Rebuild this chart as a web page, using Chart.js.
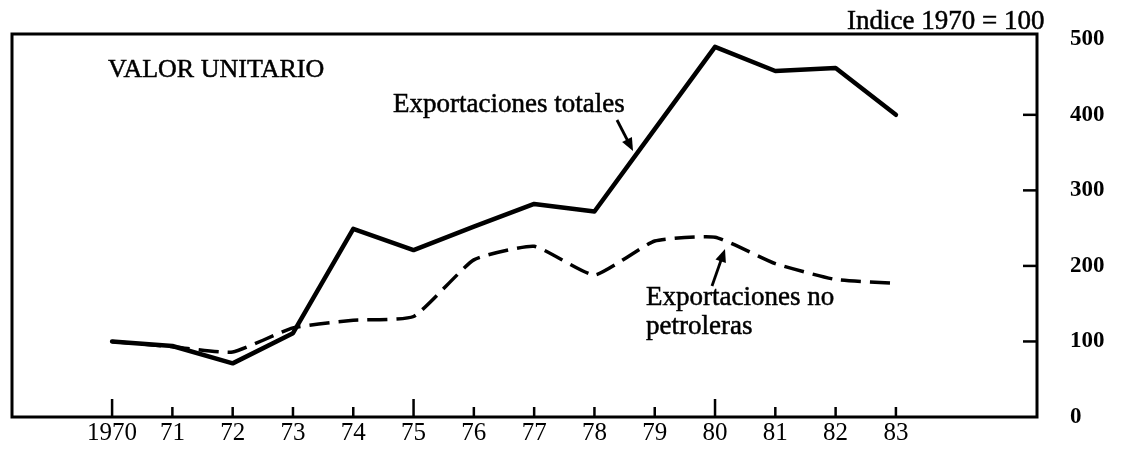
<!DOCTYPE html>
<html>
<head>
<meta charset="utf-8">
<script src="https://cdn.jsdelivr.net/npm/chart.js@4"></script>
<style>
  html, body { margin: 0; padding: 0; background: #fff; }
  #wrap { width: 1125px; height: 450px; }
</style>
</head>
<body>
<div id="wrap"><canvas id="c" width="1125" height="450"></canvas></div>
<script>
// data (indice 1970 = 100)
const YEARS = [1970, 1971, 1972, 1973, 1974, 1975, 1976, 1977, 1978, 1979, 1980, 1981, 1982, 1983];
const YEAR_LABELS = ['1970', '71', '72', '73', '74', '75', '76', '77', '78', '79', '80', '81', '82', '83'];
const TOTALES = [100, 94, 71, 111, 249, 221, 252, 282, 272, 381, 490, 458, 462, 400];
const NO_PETROLERAS = [100, 93, 86, 118, 128, 133, 208, 226, 188, 233, 238, 203, 182, 177];
const Y_TICKS = [0, 100, 200, 300, 400, 500];

const SERIF = '"Liberation Serif", "Times New Roman", serif';

function pts(vals){ return YEARS.map((y, i) => ({x: y, y: vals[i]})); }

// frame, inward ticks, notes and arrows
const decor = {
  id: 'decor',
  afterDatasetsDraw(chart){
    const {ctx, chartArea: a, scales} = chart;
    ctx.save();
    ctx.strokeStyle = '#000';
    ctx.lineWidth = 3;
    ctx.strokeRect(a.left, a.top, a.right - a.left, a.bottom - a.top);

    ctx.lineWidth = 2.5;
    YEARS.forEach(y => {
      const px = scales.x.getPixelForValue(y);
      const len = (y % 5 === 0) ? 18 : 10;
      ctx.beginPath(); ctx.moveTo(px, a.bottom); ctx.lineTo(px, a.bottom - len); ctx.stroke();
    });
    Y_TICKS.slice(1, -1).forEach(v => {
      const py = scales.y.getPixelForValue(v);
      ctx.beginPath(); ctx.moveTo(a.right, py); ctx.lineTo(a.right - 14, py); ctx.stroke();
    });

    ctx.fillStyle = '#000';
    ctx.textBaseline = 'alphabetic';
    ctx.textAlign = 'left';
    ctx.lineWidth = 0.5;
    note(ctx, 'VALOR UNITARIO', 108, 77, 26);
    note(ctx, 'Exportaciones totales', 393, 112, 27);
    note(ctx, 'Exportaciones no', 646, 305, 27);
    note(ctx, 'petroleras', 646, 334, 27);
    note(ctx, 'Indice 1970 = 100', 847, 29, 27);

    arrow(ctx, 617, 120, 633, 151);
    arrow(ctx, 712, 286, 725, 249);
    ctx.restore();
  }
};

function note(ctx, txt, x, y, size){
  ctx.font = size + 'px ' + SERIF;
  ctx.fillText(txt, x, y);
  ctx.strokeText(txt, x, y);
}

function arrow(ctx, x1, y1, x2, y2){
  const ang = Math.atan2(y2 - y1, x2 - x1);
  const hl = 13, hw = 5.5;
  ctx.lineWidth = 2.8;
  ctx.beginPath(); ctx.moveTo(x1, y1);
  ctx.lineTo(x2 - Math.cos(ang) * hl * 0.8, y2 - Math.sin(ang) * hl * 0.8); ctx.stroke();
  ctx.beginPath();
  ctx.moveTo(x2, y2);
  ctx.lineTo(x2 - Math.cos(ang) * hl + Math.sin(ang) * hw, y2 - Math.sin(ang) * hl - Math.cos(ang) * hw);
  ctx.lineTo(x2 - Math.cos(ang) * hl - Math.sin(ang) * hw, y2 - Math.sin(ang) * hl + Math.cos(ang) * hw);
  ctx.closePath(); ctx.fill();
}

new Chart(document.getElementById('c'), {
  type: 'line',
  data: {
    datasets: [
      {label: 'Exportaciones totales', data: pts(TOTALES), borderColor: '#000', borderWidth: 4.5,
       pointRadius: 0, tension: 0, borderJoinStyle: 'round', borderCapStyle: 'round'},
      {label: 'Exportaciones no petroleras', data: pts(NO_PETROLERAS), borderColor: '#000', borderWidth: 3.5,
       borderDash: [20, 9], pointRadius: 0, tension: 0.15, borderCapStyle: 'butt'}
    ]
  },
  options: {
    responsive: false,
    animation: false,
    layout: {padding: {left: 12, top: 34, right: 0, bottom: 0}},
    plugins: {legend: {display: false}, tooltip: {enabled: false}},
    scales: {
      x: {
        type: 'linear', min: 1968.34, max: 1985.34,
        afterBuildTicks: s => { s.ticks = YEARS.map(v => ({value: v})); },
        afterFit: s => { s.height = 33; s.paddingLeft = 0; s.paddingRight = 0; },
        grid: {display: false, drawTicks: false},
        border: {display: false},
        ticks: {
          autoSkip: false, maxRotation: 0, padding: 1, color: '#000',
          font: {family: SERIF, size: 25},
          callback: v => YEAR_LABELS[YEARS.indexOf(v)]
        }
      },
      y: {
        position: 'right', min: 0, max: 507,
        afterBuildTicks: s => { s.ticks = Y_TICKS.map(v => ({value: v})); },
        afterFit: s => { s.width = 88; s.paddingTop = 0; s.paddingBottom = 0; },
        grid: {display: false, drawTicks: false},
        border: {display: false},
        ticks: {padding: 33, color: '#000', font: {family: SERIF, size: 23, weight: 'bold'}}
      }
    }
  },
  plugins: [decor]
});
</script>
</body>
</html>
